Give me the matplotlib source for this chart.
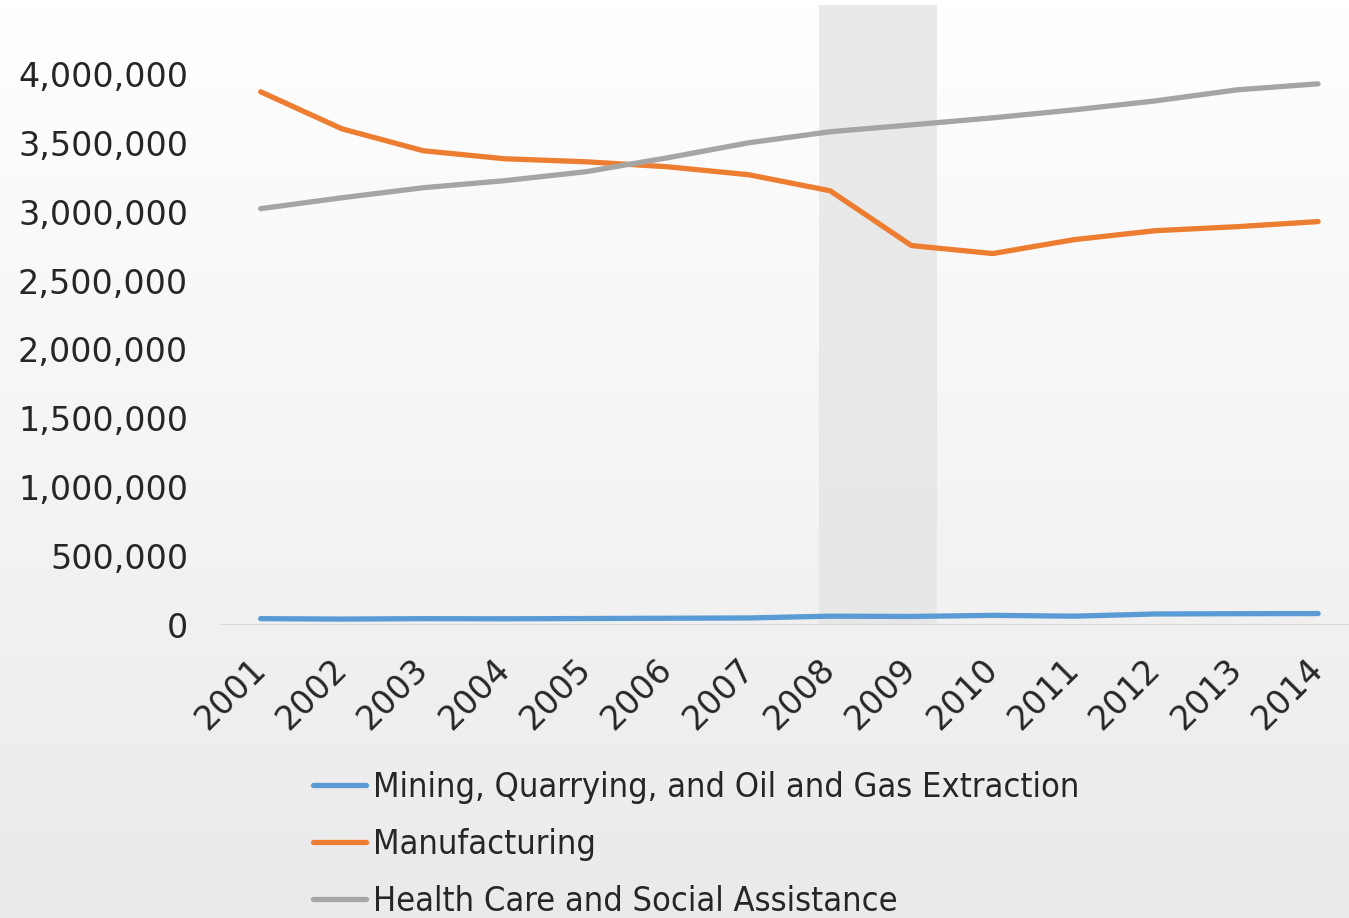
import numpy as np
import matplotlib
matplotlib.use("Agg")
import matplotlib.pyplot as plt
from matplotlib.ticker import FuncFormatter
from matplotlib import font_manager

# data
years = list(range(2001, 2015))
mining = [46000, 43000, 46000, 45000, 47000, 49000, 51000,
          64000, 62000, 70000, 64000, 80000, 82000, 83000]
manufacturing = [3870000, 3601000, 3442000, 3384000, 3362000, 3326000, 3268000,
                 3152000, 2754000, 2696000, 2797000, 2862000, 2891000, 2928000]
health = [3022000, 3101000, 3174000, 3225000, 3290000, 3391000, 3500000,
          3580000, 3630000, 3681000, 3739000, 3804000, 3884000, 3928000]
series_names = ["Mining, Quarrying, and Oil and Gas Extraction",
                "Manufacturing",
                "Health Care and Social Assistance"]
colors = ["#5b9bd5", "#ed7d31", "#a5a5a5"]
recession = (2007.86, 2009.32)

W, H = 1349, 918
fig = plt.figure(figsize=(W / 100, H / 100), dpi=100)

# gradient background
bg = fig.add_axes([0, 0, 1, 1], zorder=-10)
grad = np.linspace(1.0, 0.0, 256).reshape(-1, 1)
lo, hi = np.array([0.918, 0.918, 0.918]), np.array([1.0, 1.0, 1.0])
img = lo + (hi - lo) * grad[..., None]
bg.imshow(img, aspect="auto", extent=[0, 1, 0, 1])
bg.axis("off")

ax = fig.add_axes([220 / W, 1 - 625 / H, (1349 - 220) / W, 620 / H])
ax.patch.set_alpha(0)

ax.axvspan(*recession, color="#e6e6e6", alpha=0.85, lw=0, zorder=1)
ax.axhline(0, color="#d9d9d9", lw=1.5, zorder=2)

for vals, name, c in zip([mining, manufacturing, health], series_names, colors):
    ax.plot(years, vals, color=c, lw=3.8, label=name, zorder=3,
            solid_capstyle="round", solid_joinstyle="round")

ax.set_xlim(2000.5, 2014.38)
ax.set_ylim(0, 4500000)
ax.set_yticks(np.arange(0, 4000001, 500000))
ax.yaxis.set_major_formatter(FuncFormatter(lambda v, p: f"{int(v):,}"))
ax.set_xticks(years)
ax.set_xticklabels([str(y) for y in years], rotation=45, ha="right",
                   va="center", rotation_mode="anchor")
ax.tick_params(axis="both", length=0, labelsize=24, colors="#262626",
               labelfontfamily="DejaVu Sans")
ax.tick_params(axis="y", pad=23)
ax.tick_params(axis="x", pad=28)
for s in ax.spines.values():
    s.set_visible(False)

leg_font = font_manager.FontProperties(family="DejaVu Sans", stretch="condensed",
                                       size=24.7)
leg = ax.legend(loc="upper left", bbox_to_anchor=(313 / W, 1 - 771 / H),
                bbox_transform=fig.transFigure, frameon=False, prop=leg_font,
                handlelength=1.55, handletextpad=0.2, labelspacing=0.7,
                borderpad=0, borderaxespad=0)
for t in leg.get_texts():
    t.set_color("#262626")

fig.savefig("out.png", dpi=100)
